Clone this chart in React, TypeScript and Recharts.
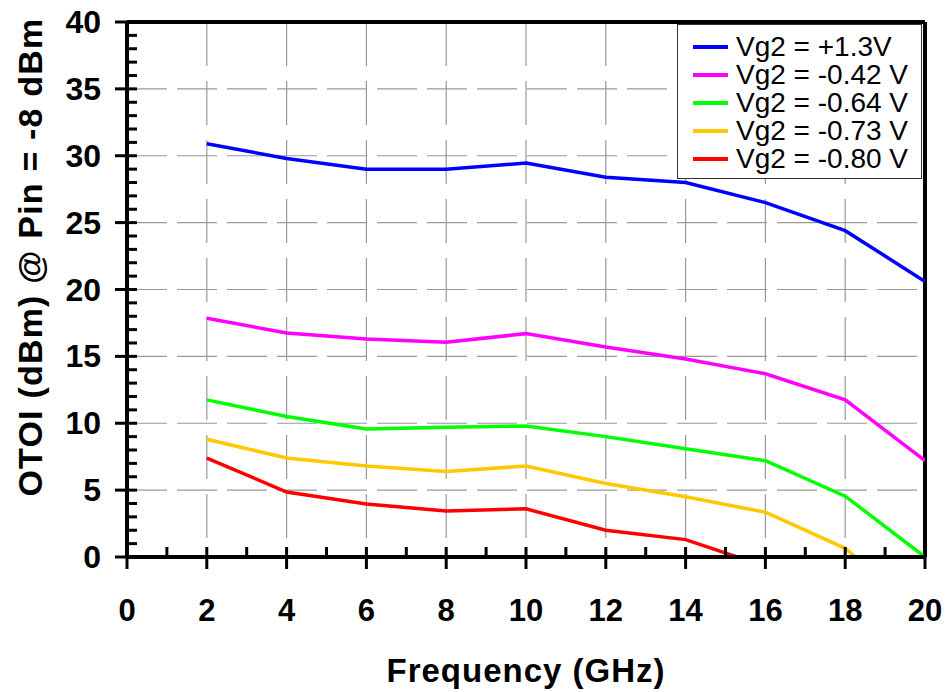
import React from 'react';
import { LineChart, Line, XAxis, YAxis, CartesianGrid, Legend, ReferenceLine } from 'recharts';

const frequencies = [2, 4, 6, 8, 10, 12, 14, 16, 18, 20];
const vgPos13 = [30.9, 29.8, 29.0, 29.0, 29.45, 28.4, 28.0, 26.5, 24.4, 20.6];
const vgNeg042 = [17.85, 16.75, 16.3, 16.05, 16.7, 15.7, 14.8, 13.7, 11.75, 7.2];
const vgNeg064 = [11.75, 10.5, 9.57, 9.7, 9.8, 9.0, 8.1, 7.2, 4.55, 0];
const vgNeg073 = [8.8, 7.4, 6.8, 6.4, 6.8, 5.5, 4.5, 3.35, 0.65, -4.5];
const vgNeg080 = [7.4, 4.86, 3.96, 3.44, 3.6, 2.0, 1.3, -0.7, null, null];

const xTicks = Array.from({ length: 21 }, (_, i) => i);
const yTicks = Array.from({ length: 41 }, (_, i) => i);
const xMajor = [2, 4, 6, 8, 10, 12, 14, 16, 18];
const yMajor = [5, 10, 15, 20, 25, 30, 35];

const series = [
  { key: 'v1', name: 'Vg2 = +1.3V', color: '#0000FF', values: vgPos13 },
  { key: 'v2', name: 'Vg2 = -0.42 V', color: '#FF00FF', values: vgNeg042 },
  { key: 'v3', name: 'Vg2 = -0.64 V', color: '#00FF00', values: vgNeg064 },
  { key: 'v4', name: 'Vg2 = -0.73 V', color: '#FFC800', values: vgNeg073 },
  { key: 'v5', name: 'Vg2 = -0.80 V', color: '#FF0000', values: vgNeg080 },
];

const data = frequencies.map((f, i) => {
  const row: any = { f };
  series.forEach((s) => { row[s.key] = s.values[i]; });
  return row;
});

const FONT = '"Liberation Sans", Arial, Helvetica, sans-serif';

const XTick = (props: any) => {
  const { x, y, payload } = props;
  const v = payload.value;
  const major = v % 2 === 0;
  return (
    <g>
      <line x1={x} x2={x} y1={y - 10} y2={y + (major ? 12 : 0)} stroke="#000" strokeWidth={3} />
      {major && (
        <text x={x} y={y + 64} textAnchor="middle" fontFamily={FONT} fontWeight="bold" fontSize={31} fill="#000">
          {v}
        </text>
      )}
    </g>
  );
};

const YTick = (props: any) => {
  const { x, y, payload } = props;
  const v = payload.value;
  const major = v % 5 === 0;
  return (
    <g>
      <line x1={x - (major ? 12 : 0)} x2={x + 10} y1={y} y2={y} stroke="#000" strokeWidth={3} />
      {major && (
        <text x={x - 26} y={y + 11} textAnchor="end" fontFamily={FONT} fontWeight="bold" fontSize={32} fill="#000">
          {v}
        </text>
      )}
    </g>
  );
};

const LegendBox = () => (
  <div
    style={{
      width: 245,
      height: 155,
      boxSizing: 'border-box',
      border: '1px solid #333',
      background: '#fff',
      paddingTop: 8,
      fontFamily: FONT,
    }}
  >
    {series.map((s) => (
      <div key={s.key} style={{ display: 'flex', alignItems: 'center', height: 28 }}>
        <div style={{ width: 35, height: 4, background: s.color, marginLeft: 15, marginRight: 8 }} />
        <span style={{ fontSize: 28, lineHeight: '28px', color: '#000', whiteSpace: 'nowrap' }}>{s.name}</span>
      </div>
    ))}
  </div>
);

const hGen = (args: any) => {
  const { offset } = args;
  return yMajor.map((v) => offset.top + offset.height * (1 - v / 40));
};
const vGen = (args: any) => {
  const { offset } = args;
  return xMajor.map((v) => offset.left + offset.width * (v / 20));
};

export default function App() {
  return (
    <div style={{ position: 'absolute', left: 0, top: 0, width: 948, height: 692, background: '#fff' }}>
      <LineChart width={948} height={692} data={data} margin={{ top: 22, right: 23, bottom: 0, left: 0 }}>
        <CartesianGrid
          horizontal={true}
          vertical={false}
          horizontalCoordinatesGenerator={hGen}
          stroke="#999"
          strokeWidth={1.2}
          strokeDasharray="40 10"
        />
        <CartesianGrid
          horizontal={false}
          vertical={true}
          verticalCoordinatesGenerator={vGen}
          stroke="#999"
          strokeWidth={1.2}
          strokeDasharray="44 15"
        />
        <XAxis
          dataKey="f"
          type="number"
          domain={[0, 20]}
          ticks={xTicks}
          interval={0}
          height={135}
          tickSize={0}
          tickMargin={0}
          tickLine={false}
          tick={<XTick />}
          axisLine={{ stroke: '#000', strokeWidth: 4 }}
          allowDataOverflow
          label={{
            content: () => (
              <text x={526} y={682} textAnchor="middle" fontFamily={FONT} fontWeight="bold" fontSize={33} letterSpacing={1} fill="#000">
                Frequency (GHz)
              </text>
            ),
          }}
        />
        <YAxis
          type="number"
          domain={[0, 40]}
          ticks={yTicks}
          interval={0}
          width={127}
          tickSize={0}
          tickMargin={0}
          tickLine={false}
          tick={<YTick />}
          axisLine={{ stroke: '#000', strokeWidth: 4 }}
          allowDataOverflow
          label={{
            content: () => (
              <text
                x={42}
                y={257}
                transform="rotate(-90 42 257)"
                textAnchor="middle"
                fontFamily={FONT}
                fontWeight="bold"
                fontSize={34}
                letterSpacing={1.2}
                fill="#000"
              >
                OTOI (dBm) @ Pin = -8 dBm
              </text>
            ),
          }}
        />
        <ReferenceLine y={40} stroke="#000" strokeWidth={4} ifOverflow="visible" />
        <ReferenceLine x={20} stroke="#000" strokeWidth={4} ifOverflow="visible" />
        {series.map((s) => (
          <Line
            key={s.key}
            type="linear"
            dataKey={s.key}
            name={s.name}
            stroke={s.color}
            strokeWidth={3.5}
            dot={false}
            activeDot={false}
            isAnimationActive={false}
            connectNulls={false}
          />
        ))}
        <Legend
          layout="horizontal"
          align="center"
          verticalAlign="middle"
          content={<LegendBox />}
          wrapperStyle={{ position: 'absolute', left: 677, top: 24, width: 245, height: 155 }}
        />
      </LineChart>
    </div>
  );
}
